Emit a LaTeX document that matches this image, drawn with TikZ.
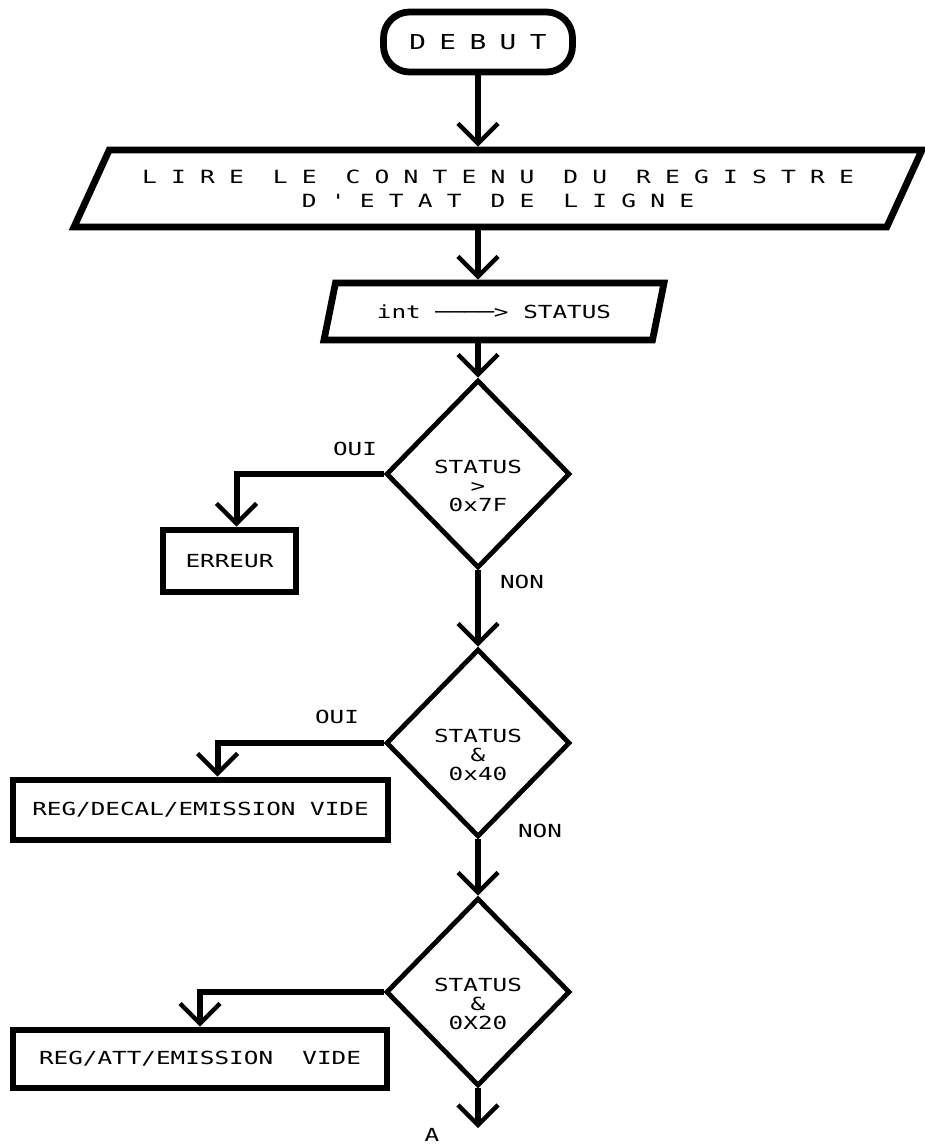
\documentclass[tikz,border=0pt]{standalone}
\usepackage{fontspec}
\usetikzlibrary{arrows.meta,positioning,shapes.geometric}
\newfontfamily\plotfont{DejaVu Sans Mono}[FakeStretch=1.35]
\newfontfamily\plotwide{DejaVu Sans Mono}[FakeStretch=1.35,LetterSpace=65]
\newfontfamily\plotwider{DejaVu Sans Mono}[FakeStretch=1.35,LetterSpace=78]
\tikzset{
  plottext/.style={font=\plotfont\fontsize{9}{9.5}\selectfont, inner sep=0pt},
  startbox/.style={draw, line width=3.4pt, rounded corners=13pt,
    minimum width=94.5pt, minimum height=30pt,
    font=\plotwide\fontsize{10.3}{12}\selectfont},
  iobox/.style={trapezium, trapezium stretches body, draw, line width=3.4pt,
    align=center, inner sep=0pt},
  actbox/.style={draw, line width=3.4pt, inner sep=0pt,
    font=\plotfont\fontsize{9}{11}\selectfont},
  testbox/.style={diamond, draw, line width=2.4pt, inner sep=0pt,
    minimum width=92pt, minimum height=94pt},
  testtext/.style={plottext, align=center, yshift=-6pt},
  link/.style={line width=3pt, -{Straight Barb[length=10pt,width=20pt,line width=2.2pt]}}
}
\begin{document}
\begin{tikzpicture}[x=0.5pt, y=-0.5pt]
  \useasboundingbox (0,0) rectangle (925,1146);
  % start and input / output
  \node[startbox] (debut) at (478,42) {DEBUT};
  \node[iobox, trapezium left angle=47, trapezium right angle=133,
        minimum width=424pt, minimum height=38.5pt,
        font=\plotwider\fontsize{9.1}{12}\selectfont] (lire) at (498,188.5)
        {LIRE LE CONTENU DU REGISTRE\\D'ETAT DE LIGNE};
  \node[iobox, trapezium left angle=50.5, trapezium right angle=129.5,
        minimum width=170pt, minimum height=28.5pt,
        font=\plotfont\fontsize{9}{11}\selectfont] (intst) at (494,311.5)
        {int ────> STATUS};
  % tests
  \node[testbox, label={[testtext]center:STATUS\\>\\0x7F}] (test1) at (478,474) {};
  \node[testbox, label={[testtext]center:STATUS\\\&\\0x40}] (test2) at (478,743) {};
  \node[testbox, label={[testtext]center:STATUS\\\&\\0X20}] (test3) at (478,992) {};
  % actions
  \node[actbox, minimum width=66.5pt, minimum height=31pt] (erreur) at (229.5,561) {ERREUR};
  \node[actbox, minimum width=187.5pt, minimum height=30pt] (regdecal) at (200.5,810) {REG/DECAL/EMISSION VIDE};
  \node[actbox, minimum width=187pt, minimum height=29pt] (regatt) at (200,1059) {REG/ATT/EMISSION~ VIDE};
  \coordinate (suite) at (478,1128);
  % branch labels
  \node[plottext] (oui1) at (355,449) {OUI};
  \node[plottext] (non1) at (522,582) {NON};
  \node[plottext] (oui2) at (337,717) {OUI};
  \node[plottext] (non2) at (540,831) {NON};
  \node[plottext] (lettreA) at (432,1135) {A};
  % connectors
  \draw[link] (debut) -- (debut |- lire.north);
  \draw[link] (lire.south -| debut) -- (debut |- intst.north);
  \draw[link] (intst.south -| debut) -- (test1);
  \draw[link] (test1) -- (test2);
  \draw[link] (test2) -- (test3);
  \draw[link] (test3) -- (suite);
  \draw[link] (test1.west) -| ([xshift=3.5pt]erreur.north);
  \draw[link] (test2.west) -| ([xshift=8.5pt]regdecal.north);
  \draw[link] (test3.west) -| (regatt.north);
\end{tikzpicture}
\end{document}
